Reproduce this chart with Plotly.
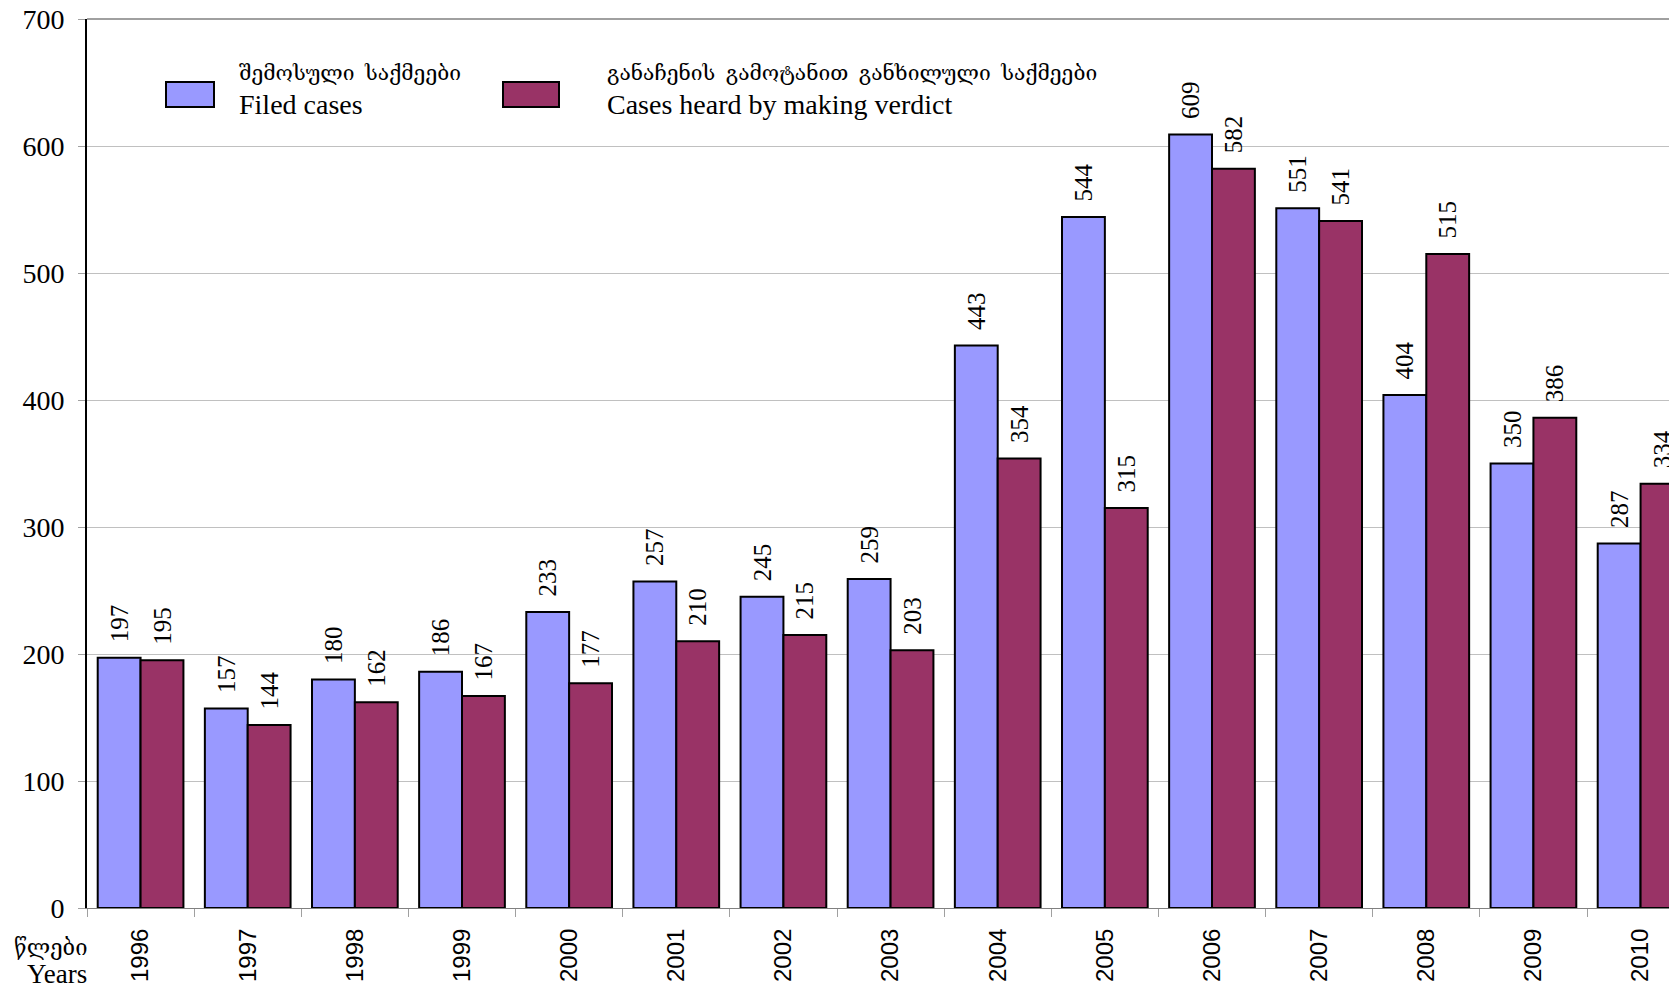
import plotly.graph_objects as go

years = ["1996", "1997", "1998", "1999", "2000", "2001", "2002", "2003",
         "2004", "2005", "2006", "2007", "2008", "2009", "2010"]
filed = [197, 157, 180, 186, 233, 257, 245, 259, 443, 544, 609, 551, 404, 350, 287]
verdict = [195, 144, 162, 167, 177, 210, 215, 203, 354, 315, 582, 541, 515, 386, 334]

filed_name_ka = "შემოსული  საქმეები"
filed_name_en = "Filed cases"
verdict_name_ka = "განაჩენის  გამოტანით  განხილული  საქმეები"
verdict_name_en = "Cases heard by making verdict"
axis_title_ka = "წლები"
axis_title_en = "Years"

BLUE = "#9999FF"
RED = "#993366"
SERIF = "Liberation Serif, Times New Roman, DejaVu Serif, serif"
SANS = "Liberation Sans, Arial, sans-serif"

OFF = 8  # default page body margin
W, H = 1677 - OFF, 990 - OFF
L, T, B, R = 87 - OFF, 19 - OFF, 82, 0
PW = W - L - R
PH = H - T - B

fig = go.Figure()
for name, vals, col in [(filed_name_en, filed, BLUE), (verdict_name_en, verdict, RED)]:
    fig.add_trace(go.Bar(
        x=years, y=vals, name=name,
        marker=dict(color=col, line=dict(color="black", width=2)),
        text=["\u00a0\u00a0" + str(v) for v in vals], textposition="outside", textangle=-90,
        textfont=dict(family=SERIF, size=25, color="black"),
        outsidetextfont=dict(family=SERIF, size=25, color="black"),
        cliponaxis=False, constraintext="none", showlegend=False,
    ))


def px2x(px):
    return (px - OFF - L) / PW


def py2y(py):
    return (H - B - (py - OFF)) / PH


# top gridline at 700
fig.add_shape(type="line", xref="paper", yref="paper", x0=0, x1=1, y0=1, y1=1,
              line=dict(color="#A0A0A0", width=2), layer="below")

# legend drawn as shapes + annotations
for (x0, x1, col) in [(166, 214, BLUE), (503, 559, RED)]:
    fig.add_shape(type="rect", xref="paper", yref="paper",
                  x0=px2x(x0), x1=px2x(x1), y0=py2y(107), y1=py2y(82),
                  fillcolor=col, line=dict(color="black", width=2))

for xpx, ka, en in [(237, filed_name_ka, filed_name_en), (605, verdict_name_ka, verdict_name_en)]:
    fig.add_annotation(xref="paper", yref="paper", x=px2x(xpx), y=py2y(73),
                       text=ka, showarrow=False, xanchor="left", yanchor="middle",
                       font=dict(family=SERIF, size=21, color="black"))
    fig.add_annotation(xref="paper", yref="paper", x=px2x(xpx), y=py2y(105),
                       text=en, showarrow=False, xanchor="left", yanchor="middle",
                       font=dict(family=SERIF, size=28, color="black"))

fig.add_annotation(xref="paper", yref="paper", x=px2x(89), y=py2y(947),
                   text=axis_title_ka, showarrow=False, xanchor="right", yanchor="middle",
                   font=dict(family=SERIF, size=22, color="black"))
fig.add_annotation(xref="paper", yref="paper", x=px2x(89), y=py2y(974),
                   text=axis_title_en, showarrow=False, xanchor="right", yanchor="middle",
                   font=dict(family=SERIF, size=27, color="black"))

fig.update_layout(
    width=W, height=H,
    margin=dict(l=L, r=R, t=T, b=B, pad=0, autoexpand=False),
    paper_bgcolor="white", plot_bgcolor="white",
    barmode="group", bargap=0.2, bargroupgap=0,
    xaxis=dict(
        type="category", range=[-0.5, 14.34],
        tickson="boundaries", ticks="outside", ticklen=8, tickcolor="#A0A0A0",
        tickangle=-90, tickfont=dict(family=SANS, size=24, color="black"),
        ticklabelstandoff=10, automargin=False,
        showline=True, linecolor="#808080", linewidth=1,
        showgrid=False, zeroline=False, fixedrange=True,
    ),
    yaxis=dict(
        range=[0, 700], dtick=100, tick0=0,
        ticks="outside", ticklen=7, tickcolor="#A0A0A0",
        tickfont=dict(family=SERIF, size=28, color="black"),
        ticklabelstandoff=8, ticklabeloverflow="allow", automargin=False,
        showline=True, linecolor="black", linewidth=2,
        showgrid=True, gridcolor="#C0C0C0", gridwidth=1,
        zeroline=False, fixedrange=True,
    ),
    font=dict(family=SERIF, color="black"),
)

fig.write_html("out.html")
